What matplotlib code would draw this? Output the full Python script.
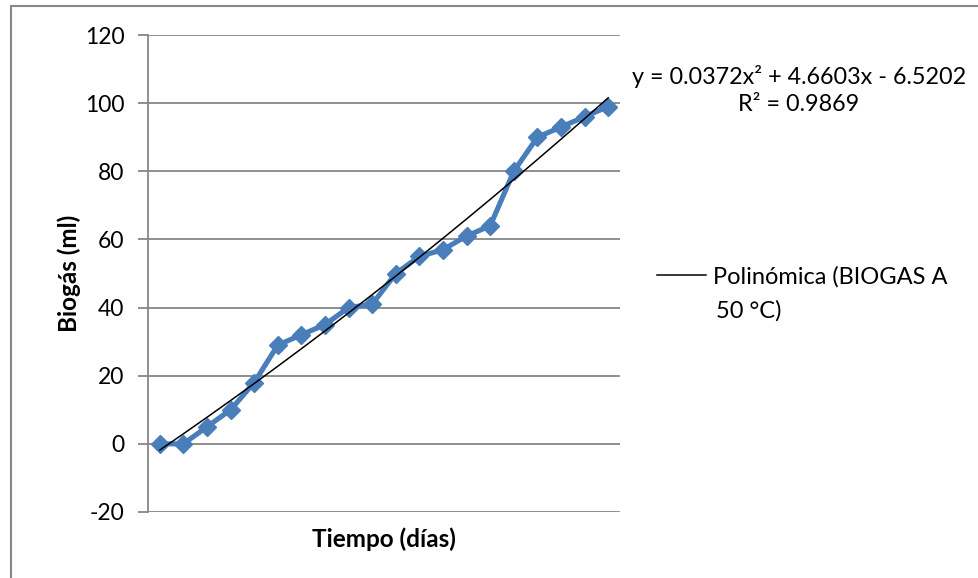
import numpy as np
import matplotlib.pyplot as plt
from matplotlib.patches import Rectangle

plt.rcParams['font.family'] = ['Lato', 'DejaVu Sans']
plt.rcParams['axes.unicode_minus'] = False

# daily biogas readings (ml), one per day
dias = np.arange(1, 21)
biogas = [0, 0, 5, 10, 18, 29, 32, 35, 40, 41,
          50, 55, 57, 61, 64, 80, 90, 93, 96, 99]

# second-order trendline coefficients
coef = [0.0372, 4.6603, -6.5202]
r2 = 0.9869

W, H = 979, 578
fig = plt.figure(figsize=(W / 100, H / 100), dpi=100)
ax = fig.add_axes([148 / W, 1 - 512 / H, 472 / W, 477 / H])

grid_col = '#878787'
for v in range(-20, 121, 20):
    ax.axhline(v, color=grid_col, lw=1.3, zorder=1)

ax.plot(dias, biogas, color='#4a7ebb', lw=3.7, marker='D', ms=9,
        zorder=3)
trend = np.polyval(coef, dias)
ax.plot(dias, trend, color='black', lw=1.1, zorder=4,
        label='Polinómica (BIOGAS A')

ax.set_xlim(0.5, 20.5)
ax.set_ylim(-20, 120)
ax.set_yticks(range(-20, 121, 20))
ax.set_xticks([])
for s in ['top', 'right', 'bottom']:
    ax.spines[s].set_visible(False)
ax.spines['left'].set_color(grid_col)
ax.spines['left'].set_linewidth(1.3)
ax.tick_params(axis='y', length=7, width=1.3, color=grid_col,
               labelsize=16.5, pad=10)

ax.set_xlabel('Tiempo (días)', fontsize=17.5, fontweight='bold', labelpad=11)
ax.set_ylabel('Biogás (ml)', fontsize=17.5, fontweight='bold', labelpad=3)

eq = f'y = {coef[0]}x² + {coef[1]}x - {abs(coef[2])}\nR² = {r2}'
fig.text(799 / W, 1 - 90 / H, eq, ha='center', va='center', fontsize=16.8,
         linespacing=1.3)

# legend entry wraps onto a second line, handle stays on the first
ax.legend(loc='center left', bbox_to_anchor=(636 / W, 1 - 277 / H),
          bbox_transform=fig.transFigure, frameon=False, fontsize=17,
          handlelength=2.05, handletextpad=0.3)
fig.text(716 / W, 1 - 311 / H, '50 °C)', ha='left', va='center', fontsize=17)

# outer chart frame
fig.patches.append(Rectangle((11 / W, -0.05), 1.1, 1 - 6 / H + 0.05,
                             transform=fig.transFigure, fill=False,
                             edgecolor=grid_col, lw=1.5))

fig.savefig('out.png', dpi=100)
